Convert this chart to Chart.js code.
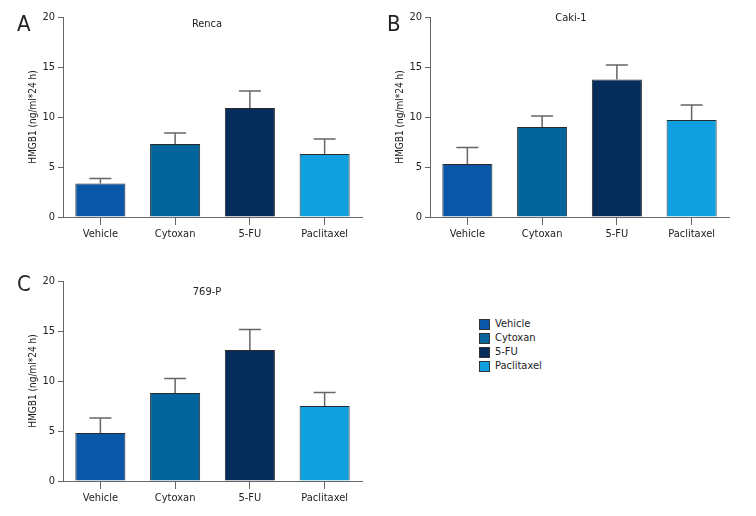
<!DOCTYPE html>
<html lang="en">
<head>
<meta charset="UTF-8">
<title>HMGB1 release</title>
<script src="https://cdn.jsdelivr.net/npm/chart.js"></script>
<style>
    body { margin: 0; background: #fff; width: 756px; height: 516px; position: relative; overflow: hidden;
           font-family: "DejaVu Sans Condensed", "Liberation Sans Narrow", sans-serif; }
    .panel { position: absolute; width: 375px; height: 250px; }
    #legend { position: absolute; left: 479px; top: 317px; font-size: 11px; color: #222; }
    #legend div { height: 14px; line-height: 14px; display: flex; align-items: center; }
    #legend span.box { width: 9px; height: 9px; border: 1px solid #333; margin-right: 5px; display: inline-block; }
</style>
</head>
<body>
<div class="panel" style="left:0;top:0"><canvas id="chartA"></canvas></div>
<div class="panel" style="left:367px;top:0"><canvas id="chartB"></canvas></div>
<div class="panel" style="left:0;top:264px"><canvas id="chartC"></canvas></div>
<div id="legend"></div>

<script>
// data
const categories = ['Vehicle', 'Cytoxan', '5-FU', 'Paclitaxel'];
const barColors = ['#0a57a8', '#03659b', '#052c5a', '#10a0e0'];
const yTicks = [0, 5, 10, 15, 20];
const yTitle = 'HMGB1 (ng/ml*24 h)';

const rencaMean = [3.35, 7.3, 10.9, 6.3];
const rencaErr  = [0.5, 1.1, 1.7, 1.5];
const cakiMean  = [5.3, 9.0, 13.75, 9.7];
const cakiErr   = [1.65, 1.1, 1.45, 1.5];
const p769Mean  = [4.8, 8.8, 13.1, 7.5];
const p769Err   = [1.5, 1.45, 2.05, 1.35];

const FONT = '"DejaVu Sans Condensed", "Liberation Sans Narrow", sans-serif';
const AXIS = '#666';

// error bars + panel letter + title drawn on top
const extrasPlugin = {
    id: 'extras',
    afterDatasetsDraw(chart, args, opts) {
        const ctx = chart.ctx;
        const meta = chart.getDatasetMeta(0);
        const yScale = chart.scales.y;
        ctx.save();
        ctx.strokeStyle = AXIS;
        ctx.lineWidth = 1.5;
        meta.data.forEach((bar, i) => {
            const v = chart.data.datasets[0].data[i];
            const top = yScale.getPixelForValue(v + opts.errors[i]);
            const y0 = yScale.getPixelForValue(v);
            ctx.beginPath();
            ctx.moveTo(bar.x, y0);
            ctx.lineTo(bar.x, top);
            ctx.moveTo(bar.x - 11, top);
            ctx.lineTo(bar.x + 11, top);
            ctx.stroke();
        });
        ctx.fillStyle = '#222';
        ctx.font = '22px ' + FONT;
        ctx.textAlign = 'left';
        ctx.textBaseline = 'alphabetic';
        ctx.fillText(opts.letter, opts.letterX, opts.letterY);
        ctx.font = '11px ' + FONT;
        ctx.textAlign = 'center';
        ctx.textBaseline = 'middle';
        ctx.fillText(opts.title, opts.titleX, opts.titleY);
        ctx.restore();
    }
};

function makePanel(id, means, errs, letter, title, pos) {
    new Chart(document.getElementById(id), {
        type: 'bar',
        data: {
            labels: categories,
            datasets: [{
                data: means,
                backgroundColor: barColors,
                borderColor: '#2a2a2a',
                borderWidth: 1,
                borderSkipped: 'bottom',
                categoryPercentage: 0.67,
                barPercentage: 1.0
            }]
        },
        options: {
            responsive: false,
            animation: false,
            layout: { padding: { top: pos.top, right: 13, left: 0, bottom: 0 } },
            plugins: {
                legend: { display: false },
                tooltip: { enabled: false },
                extras: { errors: errs, letter: letter, title: title,
                          letterX: pos.letterX, letterY: pos.letterY,
                          titleX: pos.titleX, titleY: pos.titleY }
            },
            scales: {
                x: {
                    grid: { display: true, drawOnChartArea: false, offset: false, tickLength: 8, color: AXIS },
                    border: { display: true, color: AXIS, width: 1 },
                    ticks: { color: '#222', padding: 3, font: { family: FONT, size: 11 } },
                    afterFit(scale) { scale.height = 33; }
                },
                y: {
                    min: 0, max: 20,
                    afterBuildTicks(scale) { scale.ticks = yTicks.map(v => ({ value: v })); },
                    grid: { display: true, drawOnChartArea: false, tickLength: 5, color: AXIS },
                    border: { display: true, color: AXIS, width: 1 },
                    ticks: { color: '#222', padding: 3, font: { family: FONT, size: 11 } },
                    title: { display: true, text: yTitle, color: '#222', padding: { top: 27, bottom: 0 },
                             font: { family: FONT, size: 10 } },
                    afterFit(scale) { scale.width = 63; }
                }
            }
        },
        plugins: [extrasPlugin]
    });
}

document.querySelectorAll('canvas').forEach(c => { c.width = 375; c.height = 250; });

makePanel('chartA', rencaMean, rencaErr, 'A', 'Renca',
    { top: 17, letterX: 17, letterY: 31, titleX: 207, titleY: 24 });
makePanel('chartB', cakiMean, cakiErr, 'B', 'Caki-1',
    { top: 17, letterX: 20, letterY: 31, titleX: 204, titleY: 18 });
makePanel('chartC', p769Mean, p769Err, 'C', '769-P',
    { top: 17, letterX: 17, letterY: 27, titleX: 207, titleY: 28 });

// legend
const legend = document.getElementById('legend');
categories.forEach((name, i) => {
    const row = document.createElement('div');
    row.innerHTML = `<span class="box" style="background:${barColors[i]}"></span>${name}`;
    legend.appendChild(row);
});
</script>
</body>
</html>
